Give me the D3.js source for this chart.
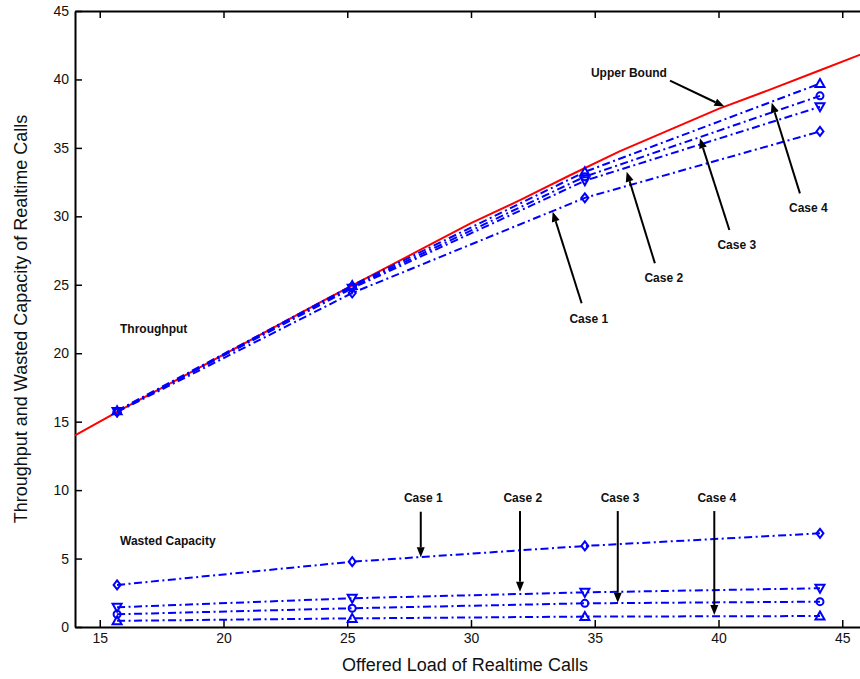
<!DOCTYPE html>
<html>
<head>
<meta charset="utf-8">
<script src="https://cdn.jsdelivr.net/npm/d3@7"></script>
<style>
  body { margin: 0; background: #fff; }
  text { font-family: "Liberation Sans", Arial, sans-serif; }
  .axis path, .axis line { stroke: #000; }
  .axis text { font-size: 14px; fill: #111; }
  .note { font-size: 12px; font-weight: bold; fill: #111; }
</style>
</head>
<body>
<div id="chart"></div>
<script>
// Datos
const loads = [15.7, 25.2, 34.6, 44.1]
const caseNames = ["Case 1", "Case 2", "Case 3", "Case 4"]
const caseMarkers = ["diamond", "triangleDown", "circle", "triangleUp"]

const throughputCase1 = [15.7, 24.4, 31.35, 36.2]
const throughputCase2 = [15.75, 24.75, 32.6, 38.0]
const throughputCase3 = [15.75, 24.85, 32.9, 38.8]
const throughputCase4 = [15.8, 24.95, 33.25, 39.7]

const wastedCase1 = [3.07, 4.77, 5.92, 6.84]
const wastedCase2 = [1.44, 2.1, 2.53, 2.83]
const wastedCase3 = [0.93, 1.37, 1.73, 1.85]
const wastedCase4 = [0.45, 0.63, 0.76, 0.8]

const upperBoundLoad = [14, 16, 18, 20, 22, 24, 26, 28, 30, 32, 34, 36, 38, 40, 42, 44, 46]
const upperBoundThroughput = [14.0, 16.0, 17.95, 19.9, 21.85, 23.8, 25.7, 27.6, 29.5, 31.2, 33.0, 34.75, 36.3, 37.85, 39.2, 40.6, 42.0]

const xTicks = [15, 20, 25, 30, 35, 40, 45]
const yTicks = [0, 5, 10, 15, 20, 25, 30, 35, 40, 45]

// Anotaciones (en unidades de datos): texto y flecha
const labels = [
    { text: "Throughput", x: 15.82, y: 21.45, anchor: "start" },
    { text: "Wasted Capacity", x: 15.82, y: 5.99, anchor: "start" },
    { text: "Upper Bound", x: 36.38, y: 40.2, anchor: "middle" },
    { text: "Case 1", x: 34.76, y: 22.23, anchor: "middle" },
    { text: "Case 2", x: 37.79, y: 25.22, anchor: "middle" },
    { text: "Case 3", x: 40.74, y: 27.59, anchor: "middle" },
    { text: "Case 4", x: 43.63, y: 30.34, anchor: "middle" },
    { text: "Case 1", x: 28.07, y: 9.15, anchor: "middle" },
    { text: "Case 2", x: 32.09, y: 9.15, anchor: "middle" },
    { text: "Case 3", x: 36.02, y: 9.15, anchor: "middle" },
    { text: "Case 4", x: 39.93, y: 9.15, anchor: "middle" }
]
const arrows = [
    { x1: 38.04, y1: 39.91, x2: 40.24, y2: 38.02 },
    { x1: 34.47, y1: 23.65, x2: 33.30, y2: 30.34 },
    { x1: 37.43, y1: 26.57, x2: 36.29, y2: 33.26 },
    { x1: 40.44, y1: 29.0, x2: 39.25, y2: 35.70 },
    { x1: 43.29, y1: 31.68, x2: 42.15, y2: 38.30 },
    { x1: 27.97, y1: 8.42, x2: 27.97, y2: 5.09 },
    { x1: 31.98, y1: 8.47, x2: 31.98, y2: 2.58 },
    { x1: 35.93, y1: 8.47, x2: 35.93, y2: 1.78 },
    { x1: 39.83, y1: 8.47, x2: 39.83, y2: 0.88 }
]

const width = 860
const height = 679
const margin = { top: 11, bottom: 52, left: 75, right: -7 }

const svg = d3.select("#chart")
    .append("svg")
    .attr("width", width)
    .attr("height", height)

const x = d3.scaleLinear().domain([14, 46]).range([margin.left, width - margin.right])
const y = d3.scaleLinear().domain([0, 45]).range([height - margin.bottom, margin.top])

// Ejes tipo caja con marcas hacia dentro
const axisGroup = svg.append("g").attr("class", "axis")
axisGroup.append("g")
    .attr("transform", `translate(0, ${y(0)})`)
    .call(d3.axisBottom(x).tickValues(xTicks).tickSizeInner(-7).tickSizeOuter(0).tickPadding(6))
axisGroup.append("g")
    .attr("transform", `translate(0, ${y(45)})`)
    .call(d3.axisTop(x).tickValues(xTicks).tickSizeInner(-7).tickSizeOuter(0).tickFormat(""))
axisGroup.append("g")
    .attr("transform", `translate(${x(14)}, 0)`)
    .call(d3.axisLeft(y).tickValues(yTicks).tickSizeInner(-7).tickSizeOuter(0).tickPadding(6))
axisGroup.append("g")
    .attr("transform", `translate(${x(46)}, 0)`)
    .call(d3.axisRight(y).tickValues(yTicks).tickSizeInner(-7).tickSizeOuter(0).tickFormat(""))
axisGroup.selectAll("path.domain").attr("stroke-width", 2)
axisGroup.selectAll(".tick line").attr("stroke-width", 1.5)

// Títulos de los ejes
svg.append("text")
    .attr("x", (x(14) + x(46)) / 2 - 6)
    .attr("y", 671)
    .attr("text-anchor", "middle")
    .style("font-size", "18px")
    .attr("fill", "#111")
    .text("Offered Load of Realtime Calls")
svg.append("text")
    .attr("transform", `translate(27, ${(y(0) + y(45)) / 2}) rotate(-90)`)
    .attr("text-anchor", "middle")
    .style("font-size", "18px")
    .attr("fill", "#111")
    .text("Throughput and Wasted Capacity of Realtime Calls")

// Línea de cota superior
const line = d3.line().x(d => x(d[0])).y(d => y(d[1]))
svg.append("path")
    .datum(d3.zip(upperBoundLoad, upperBoundThroughput))
    .attr("fill", "none")
    .attr("stroke", "#ff0000")
    .attr("stroke-width", 2)
    .attr("d", line)

// Series de los casos
const throughputSeries = [throughputCase1, throughputCase2, throughputCase3, throughputCase4]
const wastedSeries = [wastedCase1, wastedCase2, wastedCase3, wastedCase4]

function markerPath(shape) {
    if (shape === "diamond") return "M0,-4.5L3.5,0L0,4.5L-3.5,0Z"
    if (shape === "triangleUp") return "M0,-4.5L4.5,3.5L-4.5,3.5Z"
    if (shape === "triangleDown") return "M0,4.5L4.5,-3.5L-4.5,-3.5Z"
    return d3.arc()({ innerRadius: 0, outerRadius: 3.5, startAngle: 0, endAngle: 2 * Math.PI })
}

const seriesGroup = svg.append("g")
function drawSeries(values, i) {
    const pts = d3.zip(loads, values)
    seriesGroup.append("path")
        .datum(pts)
        .attr("fill", "none")
        .attr("stroke", "#0000ff")
        .attr("stroke-width", 2)
        .attr("stroke-dasharray", "8,3.5,2,3.5")
        .attr("d", line)
    seriesGroup.selectAll(null)
        .data(pts)
        .enter()
        .append("path")
        .attr("transform", d => `translate(${x(d[0])}, ${y(d[1])})`)
        .attr("d", markerPath(caseMarkers[i]))
        .attr("fill", "none")
        .attr("stroke", "#0000ff")
        .attr("stroke-width", 2)
}
throughputSeries.forEach(drawSeries)
wastedSeries.forEach(drawSeries)

// Flechas
const arrowGroup = svg.append("g")
arrows.forEach(a => {
    const x1 = x(a.x1), y1 = y(a.y1), x2 = x(a.x2), y2 = y(a.y2)
    const len = Math.hypot(x2 - x1, y2 - y1)
    const ux = (x2 - x1) / len, uy = (y2 - y1) / len
    const headLen = 10, headHalf = 4
    const bx = x2 - ux * headLen, by = y2 - uy * headLen
    arrowGroup.append("line")
        .attr("x1", x1).attr("y1", y1)
        .attr("x2", bx).attr("y2", by)
        .attr("stroke", "#000")
        .attr("stroke-width", 2)
    arrowGroup.append("path")
        .attr("d", `M${x2},${y2}L${bx - uy * headHalf},${by + ux * headHalf}L${bx + uy * headHalf},${by - ux * headHalf}Z`)
        .attr("fill", "#000")
})

// Textos
svg.append("g").selectAll("text")
    .data(labels)
    .enter()
    .append("text")
    .attr("class", "note")
    .attr("x", d => x(d.x))
    .attr("y", d => y(d.y))
    .attr("text-anchor", d => d.anchor)
    .text(d => d.text)
</script>
</body>
</html>
